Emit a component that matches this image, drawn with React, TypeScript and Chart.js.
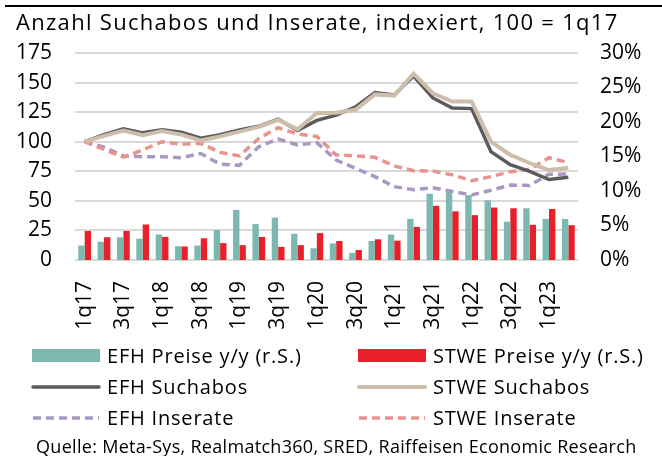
import React, { useEffect, useRef } from "react";
import { Chart, registerables } from "chart.js";

Chart.register(...registerables);

const FONT = "'Open Sans', 'Noto Sans', sans-serif";

const quarters = [
  "1q17", "2q17", "3q17", "4q17",
  "1q18", "2q18", "3q18", "4q18",
  "1q19", "2q19", "3q19", "4q19",
  "1q20", "2q20", "3q20", "4q20",
  "1q21", "2q21", "3q21", "4q21",
  "1q22", "2q22", "3q22", "4q22",
  "1q23", "2q23",
];

// y/y price growth in % (right axis)
const efhPreise = [
  2.1, 2.65, 3.3, 3.1, 3.7, 2.0, 2.1, 4.35, 7.25, 5.2, 6.15, 3.8, 1.7,
  2.4, 1.05, 2.75, 3.7, 5.95, 9.6, 10.2, 9.4, 8.65, 5.55, 7.5, 5.95, 5.95,
];
const stwePreise = [
  4.2, 3.3, 4.2, 5.15, 3.35, 1.95, 3.15, 2.45, 2.15, 3.35, 1.9, 2.15, 3.9,
  2.75, 1.45, 3.0, 2.8, 4.8, 7.85, 7.05, 6.5, 7.6, 7.5, 5.1, 7.4, 5.05,
];

// indexed, 100 = 1q17 (left axis)
const efhSuchabos = [
  100, 106, 111, 107.5, 110, 108, 103, 106, 110, 113, 119, 109.5, 118,
  122.5, 129.5, 141.5, 139.5, 155.5, 137, 128.5, 128, 91.6, 80.5, 75, 68, 70,
];
const stweSuchabos = [
  100, 105, 109.5, 105.5, 109, 106, 101, 104.5, 108.5, 112.5, 118.5, 110.5,
  124, 124.5, 127, 140, 139, 157.5, 141, 134, 134, 100, 88.8, 82, 76, 78,
];
const efhInserate = [
  100, 95.5, 88, 87.3, 87.3, 86.5, 90, 81, 80, 95.8, 102.3, 97.2, 99.2,
  84.5, 77.5, 70.5, 62, 59.5, 61, 58, 55, 59, 63.3, 63, 72.5, 72.7,
];
const stweInserate = [
  100, 93.5, 87, 93, 100, 97.8, 98.6, 91, 88, 102.8, 111.8, 106.5, 104.5,
  88.8, 88, 86.8, 79.5, 75.5, 75.2, 72, 67, 70.5, 74.7, 76.7, 86.5, 82.3,
];

const leftTicks = [0, 25, 50, 75, 100, 125, 150, 175];
const rightTicks = [0, 5, 10, 15, 20, 25, 30];

const TITLE = "Anzahl Suchabos und Inserate, indexiert, 100 = 1q17";
const SOURCE =
  "Quelle: Meta-Sys, Realmatch360, SRED, Raiffeisen Economic Research";

function setSpacing(ctx: any, px: number) {
  if ("letterSpacing" in ctx) ctx.letterSpacing = `${px}px`;
}

const decorPlugin = {
  id: "decor",
  afterDraw(chart: any) {
    const ctx: CanvasRenderingContext2D = chart.ctx;
    ctx.save();
    // top rule
    ctx.fillStyle = "#000000";
    ctx.fillRect(5, 5, 657, 2);
    // title
    ctx.fillStyle = "#000000";
    ctx.font = `22px ${FONT}`;
    setSpacing(ctx, 1.3);
    ctx.textBaseline = "alphabetic";
    ctx.textAlign = "left";
    ctx.fillText(TITLE, 16, 30);

    // legend (2 columns x 3 rows)
    const colSwatch = [32, 358];
    const colText = [107, 433];
    const rowY = [355.5, 387, 418];
    const swW = 68;
    ctx.font = `20px ${FONT}`;
    setSpacing(ctx, 0.8);
    chart.data.datasets.forEach((ds: any, i: number) => {
      const r = Math.floor(i / 2);
      const c = i % 2;
      const x = colSwatch[c];
      const y = rowY[r];
      if (ds.type === "bar") {
        ctx.fillStyle = ds.backgroundColor;
        ctx.fillRect(x, y - 6.5, swW, 13);
      } else {
        ctx.strokeStyle = ds.borderColor;
        ctx.lineWidth = ds.borderWidth;
        ctx.lineCap = ds.borderDash && ds.borderDash.length ? "butt" : "round";
        ctx.setLineDash(ds.borderDash || []);
        ctx.beginPath();
        ctx.moveTo(x + 1, y);
        ctx.lineTo(x + swW - 1, y);
        ctx.stroke();
        ctx.setLineDash([]);
      }
      ctx.fillStyle = "#000000";
      ctx.fillText(ds.label, colText[c], y + 7);
    });

    // source
    ctx.font = `18px ${FONT}`;
    setSpacing(ctx, 0.3);
    ctx.fillStyle = "#000000";
    ctx.fillText(SOURCE, 36, 453);
    setSpacing(ctx, 0);
    ctx.restore();
  },
};

export default function App() {
  const ref = useRef<HTMLCanvasElement>(null);

  useEffect(() => {
    document.body.style.margin = "0";
    Chart.defaults.font.family = FONT;
    const chart = new Chart(ref.current as HTMLCanvasElement, {
      type: "bar",
      data: {
        labels: quarters,
        datasets: [
          {
            type: "bar",
            label: "EFH Preise y/y (r.S.)",
            data: efhPreise,
            yAxisID: "y1",
            backgroundColor: "#7DB8B0",
            categoryPercentage: 0.66,
            barPercentage: 1.0,
            order: 10,
          },
          {
            type: "bar",
            label: "STWE Preise y/y (r.S.)",
            data: stwePreise,
            yAxisID: "y1",
            backgroundColor: "#E8202A",
            categoryPercentage: 0.66,
            barPercentage: 1.0,
            order: 10,
          },
          {
            type: "line",
            label: "EFH Suchabos",
            data: efhSuchabos,
            yAxisID: "y",
            borderColor: "#5B5B5B",
            backgroundColor: "#5B5B5B",
            borderWidth: 3.5,
            pointRadius: 0,
            tension: 0,
            fill: false,
            order: 3,
          },
          {
            type: "line",
            label: "STWE Suchabos",
            data: stweSuchabos,
            yAxisID: "y",
            borderColor: "#CDBEAC",
            backgroundColor: "#CDBEAC",
            borderWidth: 4,
            pointRadius: 0,
            tension: 0,
            fill: false,
            order: 2,
          },
          {
            type: "line",
            label: "EFH Inserate",
            data: efhInserate,
            yAxisID: "y",
            borderColor: "#A898C2",
            backgroundColor: "#A898C2",
            borderWidth: 3.5,
            borderDash: [8, 5],
            pointRadius: 0,
            tension: 0,
            fill: false,
            order: 5,
          },
          {
            type: "line",
            label: "STWE Inserate",
            data: stweInserate,
            yAxisID: "y",
            borderColor: "#E8948E",
            backgroundColor: "#E8948E",
            borderWidth: 3.5,
            borderDash: [8, 5],
            pointRadius: 0,
            tension: 0,
            fill: false,
            order: 4,
          },
        ],
      } as any,
      options: {
        responsive: false,
        animation: false,
        layout: { padding: { top: 53, left: 0, right: 0, bottom: 0 } },
        plugins: {
          legend: { display: false },
          title: { display: false },
          tooltip: { enabled: false },
        },
        scales: {
          x: {
            type: "category",
            offset: true,
            grid: { display: false, drawTicks: false },
            border: { display: false },
            ticks: {
              autoSkip: false,
              minRotation: 90,
              maxRotation: 90,
              padding: 21,
              color: "#000000",
              font: { size: 21, family: FONT },
              callback: (_v: any, i: number) => (i % 2 === 0 ? quarters[i] : ""),
            },
            afterFit: (s: any) => {
              s.height = 196;
            },
          },
          y: {
            position: "left",
            min: leftTicks[0],
            max: leftTicks[leftTicks.length - 1],
            afterBuildTicks: (s: any) => {
              s.ticks = leftTicks.map((v) => ({ value: v }));
            },
            grid: { color: "#D9D9D9", lineWidth: 2, drawTicks: false },
            border: { display: false },
            ticks: {
              padding: 23,
              color: "#000000",
              font: { size: 21, family: FONT },
            },
            afterFit: (s: any) => {
              s.width = 75;
            },
          },
          y1: {
            position: "right",
            min: rightTicks[0],
            max: rightTicks[rightTicks.length - 1],
            afterBuildTicks: (s: any) => {
              s.ticks = rightTicks.map((v) => ({ value: v }));
            },
            grid: { display: false, drawTicks: false },
            border: { display: false },
            ticks: {
              padding: 22,
              color: "#000000",
              font: { size: 21, family: FONT },
              callback: (v: any) => `${v}%`,
            },
            afterFit: (s: any) => {
              s.width = 84;
            },
          },
        },
      } as any,
      plugins: [decorPlugin],
    });
    return () => chart.destroy();
  }, []);

  return (
    <div style={{ width: 662, height: 456, position: "relative" }}>
      <canvas
        ref={ref}
        width={662}
        height={456}
        style={{ width: 662, height: 456, display: "block" }}
      />
    </div>
  );
}
